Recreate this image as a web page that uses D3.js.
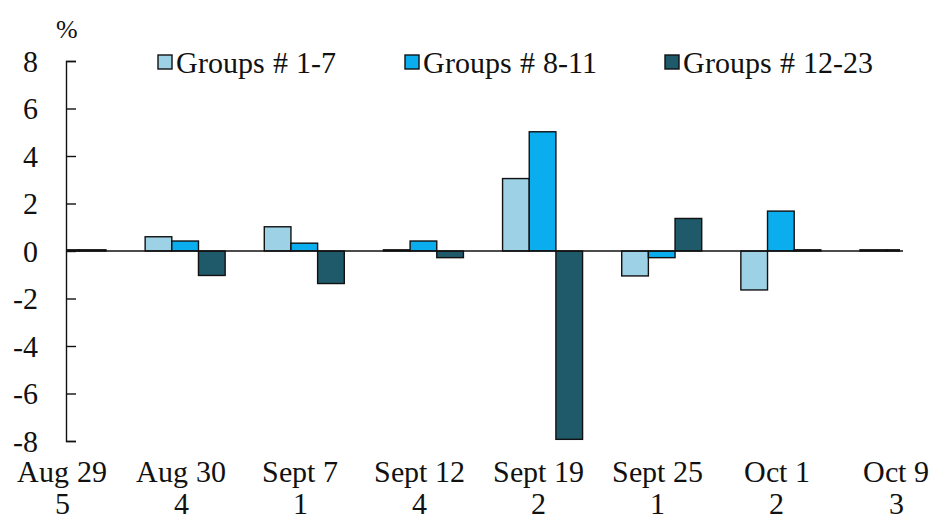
<!DOCTYPE html>
<html>
<head>
<meta charset="utf-8">
<script src="https://cdn.jsdelivr.net/npm/d3@7"></script>
<style>
  body { margin: 0; background: #fff; }
  @font-face { font-family: "ChartSerif"; src: local("Liberation Serif"), local("LiberationSerif"), local("Times New Roman"); }
  svg text { font-family: "ChartSerif", "Liberation Serif", serif !important; }
</style>
</head>
<body>
<div class="chart"></div>
<script>
// data
var dates = ["Aug 29", "Aug 30", "Sept 7", "Sept 12", "Sept 19", "Sept 25", "Oct 1", "Oct 9"];
var counts = ["5", "4", "1", "4", "2", "1", "2", "3"];
var seriesNames = ["Groups # 1-7", "Groups # 8-11", "Groups # 12-23"];
var groups1to7 = [0.05, 0.6, 1.02, 0.05, 3.05, -1.05, -1.64, 0.05];
var groups8to11 = [0.05, 0.42, 0.33, 0.42, 5.02, -0.28, 1.68, 0.05];
var groups12to23 = [0.05, -1.03, -1.37, -0.28, -7.93, 1.37, 0.05, 0.05];
var yTicks = [-8, -6, -4, -2, 0, 2, 4, 6, 8];
var colors = ["#9dd2e6", "#0aaeee", "#1f5a6b"];

var serif = "'Liberation Serif'";

var width = 930, height = 529;
var margin = {top: 61, right: 30, bottom: 88, left: 66};
var innerW = 900 - margin.left, innerH = height - margin.top - margin.bottom;

var svg = d3.select(".chart").append("svg")
    .attr("width", width)
    .attr("height", height)
    .attr("font-family", "Liberation Serif");

var g = svg.append("g")
    .attr("transform", "translate(" + margin.left + "," + margin.top + ")");

// scales
var x = d3.scalePoint().domain(d3.range(dates.length)).range([0, innerW]);
var xs = d3.scaleBand().domain(seriesNames).range([-40, 40]).padding(0);
var y = d3.scaleLinear().domain([-8, 8]).range([innerH, 0]);

var series = [groups1to7, groups8to11, groups12to23];

g.append("clipPath").attr("id", "plot")
  .append("rect").attr("x", 0).attr("y", -5).attr("width", innerW).attr("height", innerH + 10);

var bars = g.append("g").attr("clip-path", "url(#plot)");
series.forEach(function(vals, si) {
  bars.selectAll(".s" + si)
    .data(vals)
    .enter().append("rect")
      .attr("class", "s" + si)
      .attr("x", function(d, i) { return x(i) + xs(seriesNames[si]); })
      .attr("width", xs.bandwidth())
      .attr("y", function(d) { return y(Math.max(0, d)); })
      .attr("height", function(d) { return Math.abs(y(d) - y(0)); })
      .attr("fill", colors[si])
      .attr("stroke", "#111")
      .attr("stroke-width", 1.4);
});

// zero line
g.append("line")
  .attr("x1", 0).attr("x2", innerW + 3)
  .attr("y1", y(0)).attr("y2", y(0))
  .attr("stroke", "#111").attr("stroke-width", 1.4);

// y axis, ticks on the inside
var yAxis = g.append("g")
  .call(d3.axisRight(y).tickValues(yTicks).tickSize(10).tickSizeOuter(10).tickFormat(""));
yAxis.attr("font-family", null);
yAxis.select(".domain").attr("stroke", "#111").attr("stroke-width", 1.4);
yAxis.selectAll(".tick line").attr("stroke", "#111").attr("stroke-width", 1.4);

g.selectAll(".ylab")
  .data(yTicks)
  .enter().append("text")
    .attr("class", "ylab")
    .attr("x", -28)
    .attr("y", function(d) { return y(d); })
    .attr("dy", "0.35em")
    .attr("text-anchor", "end")
    .style("font-size", "30px")
    .style("fill", "#111")
    .text(function(d) { return d; });

svg.append("text")
  .attr("x", 67).attr("y", 38)
  .attr("text-anchor", "middle")
  .style("font-size", "26px")
  .style("fill", "#111")
  .text("%");

// x labels, two lines
g.selectAll(".xlab")
  .data(dates)
  .enter().append("text")
    .attr("class", "xlab")
    .attr("x", function(d, i) { return x(i) - 4; })
    .attr("y", 482 - margin.top)
    .attr("text-anchor", "middle")
    .style("font-size", "30px")
    .style("fill", "#111")
    .text(function(d) { return d; });

g.selectAll(".xcount")
  .data(counts)
  .enter().append("text")
    .attr("class", "xcount")
    .attr("x", function(d, i) { return x(i) - 4; })
    .attr("y", 514 - margin.top)
    .attr("text-anchor", "middle")
    .style("font-size", "30px")
    .style("fill", "#111")
    .text(function(d) { return d; });

// legend
var legendX = [158, 405, 665];
var legend = svg.selectAll(".legend")
  .data(seriesNames)
  .enter().append("g")
    .attr("class", "legend")
    .attr("transform", function(d, i) { return "translate(" + legendX[i] + ",62)"; });

legend.append("rect")
  .attr("x", 0).attr("y", -7)
  .attr("width", 14).attr("height", 14)
  .attr("fill", function(d, i) { return colors[i]; })
  .attr("stroke", "#111").attr("stroke-width", 1.4);

legend.append("text")
  .attr("x", 18).attr("dy", "0.35em")
  .style("font-size", "30px")
  .style("fill", "#111")
  .text(function(d) { return d; });
</script>
</body>
</html>
